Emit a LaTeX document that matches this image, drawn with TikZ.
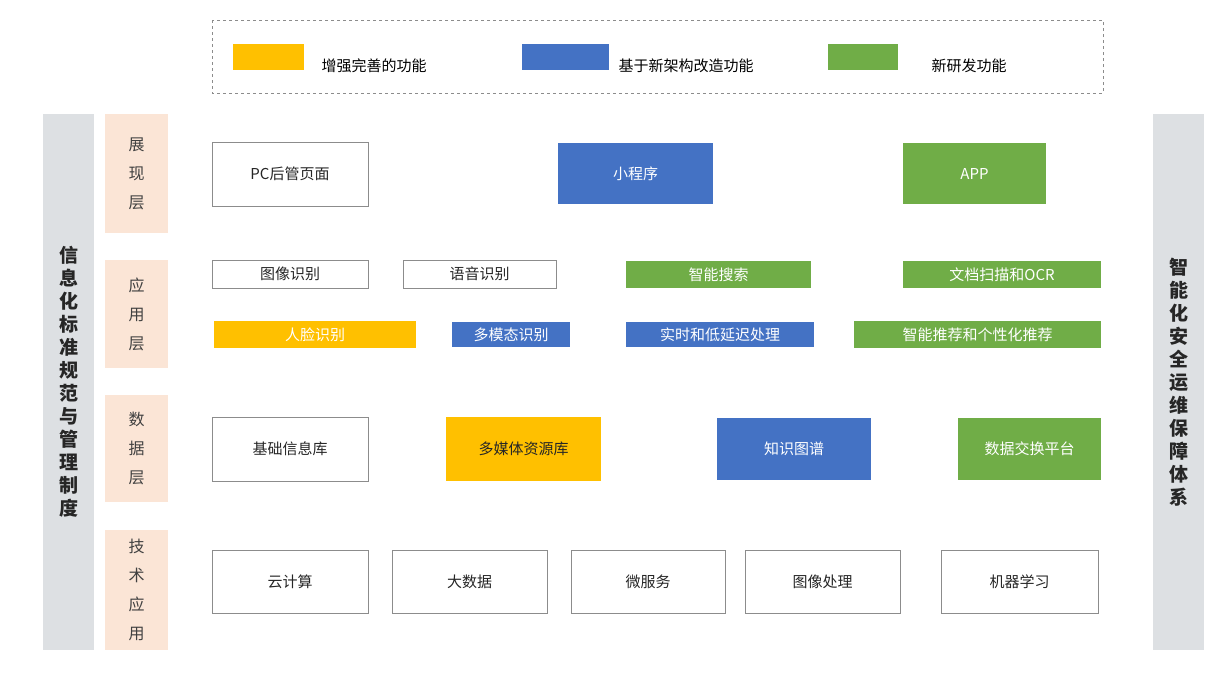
\documentclass[tikz,border=0pt]{standalone}
\usepackage{fontspec}
\setmainfont{Noto Sans CJK SC}
\newfontfamily\cjk{Noto Sans CJK SC}
\definecolor{cblue}{HTML}{4472C4}
\definecolor{cgreen}{HTML}{70AD47}
\definecolor{cyel}{HTML}{FFC000}
\definecolor{cpeach}{HTML}{FBE5D6}
\definecolor{cgray}{HTML}{DDE0E3}
\definecolor{cline}{HTML}{8C8C8C}
\tikzset{
 wbox/.style={draw=cline,fill=white,text=black!85,line width=0.8pt},
 bbox/.style={fill=cblue,text=white},
 gbox/.style={fill=cgreen,text=white},
 ybox/.style={fill=cyel,text=white},
 ytbox/.style={fill=cyel,text=black!85},
 pbox/.style={fill=cpeach,text=black!75,font=\cjk\fontsize{16}{29}\selectfont},
 sbar/.style={fill=cgray,text=black!85,font=\cjk\fontsize{19}{23}\selectfont\bfseries},
 ltext/.style={anchor=west,font=\fontsize{15}{17}\selectfont},
}
\newcommand{\bx}[7]{\node[inner sep=0pt,minimum width={(#4-#2)*1pt},minimum height={(#5-#3)*1pt},font=\fontsize{15}{17}\selectfont,#6] (#1) at ({(#2+#4)/2},{(#3+#5)/2}) {#7};}
\begin{document}
\begin{tikzpicture}[x=1pt,y=-1pt]
\useasboundingbox (0,0) rectangle (1214,672);
\fill[white] (0,0) rectangle (1214,672);
% legend
\draw[dashed,cline,line width=0.8pt] (212,20) rectangle (1103,93);
\bx{ly}{233}{44}{304}{70}{fill=cyel}{}
\node[ltext] (lyt) at (318,66) {增强完善的功能};
\bx{lb}{522}{44}{609}{70}{fill=cblue}{}
\node[ltext] (lbt) at (615,66) {基于新架构改造功能};
\bx{lg}{828}{44}{898}{70}{fill=cgreen}{}
\node[ltext] (lgt) at (928,66) {新研发功能};
% side bars
\node[sbar,inner sep=0pt,minimum width=51pt,minimum height=536pt,align=center] (lbar) at (68.5,382) {信\\息\\化\\标\\准\\规\\范\\与\\管\\理\\制\\度};
\node[sbar,inner sep=0pt,minimum width=51pt,minimum height=536pt,align=center] (rbar) at (1178.5,382) {智\\能\\化\\安\\全\\运\\维\\保\\障\\体\\系};
% layer labels
\bx{l1}{105}{114}{168}{233}{pbox,align=center}{展\\现\\层}
\bx{l2}{105}{260}{168}{368}{pbox,align=center}{应\\用\\层}
\bx{l3}{105}{395}{168}{502}{pbox,align=center}{数\\据\\层}
\bx{l4}{105}{530}{168}{650}{pbox,align=center}{技\\术\\应\\用}
% row1
\bx{pc}{212}{142}{368}{206}{wbox}{PC后管页面}
\bx{mini}{558}{143}{713}{204}{bbox}{小程序}
\bx{app}{903}{143}{1046}{204}{gbox}{APP}
% row2
\bx{img}{212}{260}{368}{288}{wbox}{图像识别}
\bx{voice}{403}{260}{556}{288}{wbox}{语音识别}
\bx{search}{626}{261}{811}{288}{gbox}{智能搜索}
\bx{ocr}{903}{261}{1101}{288}{gbox}{文档扫描和OCR}
\bx{face}{214}{321}{416}{348}{ybox}{人脸识别}
\bx{multi}{452}{322}{570}{347}{bbox}{多模态识别}
\bx{rt}{626}{322}{814}{347}{bbox}{实时和低延迟处理}
\bx{rec}{854}{321}{1101}{348}{gbox}{智能推荐和个性化推荐}
% row3
\bx{base}{212}{417}{368}{481}{wbox}{基础信息库}
\bx{media}{446}{417}{601}{481}{ytbox}{多媒体资源库}
\bx{kg}{717}{418}{871}{480}{bbox}{知识图谱}
\bx{ex}{958}{418}{1101}{480}{gbox}{数据交换平台}
% row4
\bx{cloud}{212}{550}{368}{613}{wbox}{云计算}
\bx{big}{392}{550}{547}{613}{wbox}{大数据}
\bx{micro}{571}{550}{725}{613}{wbox}{微服务}
\bx{imgp}{745}{550}{900}{613}{wbox}{图像处理}
\bx{ml}{941}{550}{1098}{613}{wbox}{机器学习}
\end{tikzpicture}
\end{document}
